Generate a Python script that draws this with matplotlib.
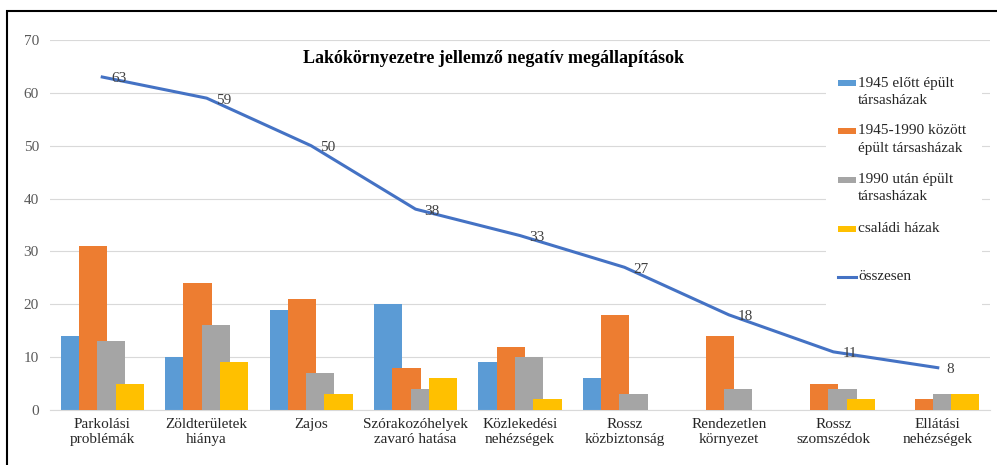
import matplotlib
matplotlib.use("Agg")
import matplotlib.pyplot as plt
import numpy as np
from matplotlib.patches import Rectangle
from matplotlib.lines import Line2D

plt.rcParams['font.family'] = ['Liberation Serif', 'DejaVu Serif']

# adatok
kategoriak = ["Parkolási\nproblémák", "Zöldterületek\nhiánya", "Zajos",
              "Szórakozóhelyek\nzavaró hatása", "Közlekedési\nnehézségek",
              "Rossz\nközbiztonság", "Rendezetlen\nkörnyezet",
              "Rossz\nszomszédok", "Ellátási\nnehézségek"]
elott_1945 = [14, 10, 19, 20, 9, 6, 0, 0, 0]
kozott_1945_1990 = [31, 24, 21, 8, 12, 18, 14, 5, 2]
utan_1990 = [13, 16, 7, 4, 10, 3, 4, 4, 3]
csaladi = [5, 9, 3, 6, 2, 0, 0, 2, 3]
osszesen = [63, 59, 50, 38, 33, 27, 18, 11, 8]

sorozatok = [
    ("1945 előtt épült\ntársasházak", elott_1945, "#5B9BD5"),
    ("1945-1990 között\népült társasházak", kozott_1945_1990, "#ED7D31"),
    ("1990 után épült\ntársasházak", utan_1990, "#A5A5A5"),
    ("családi házak", csaladi, "#FFC000"),
]
VONAL_SZIN = "#4472C4"

W, H = 997, 465
fig = plt.figure(figsize=(W / 100, H / 100), dpi=100)
ax = fig.add_axes([50 / W, 55 / H, 940 / W, 370 / H])

x = np.arange(len(kategoriak))
szel = 0.27
lepes = 0.175
for i, (nev, ert, szin) in enumerate(sorozatok):
    ax.bar(x + (i - 1.5) * lepes, ert, width=szel, color=szin, zorder=2 + i)

ax.plot(x, osszesen, color=VONAL_SZIN, lw=2.2, zorder=10)
for xi, v in zip(x, osszesen):
    ax.annotate(str(v), (xi, v), xytext=(9, -2), textcoords="offset pixels",
                ha="left", va="center", fontsize=11, color="#404040", zorder=11)

ax.set_xlim(-0.5, len(kategoriak) - 0.5)
ax.set_ylim(0, 70)
ax.set_yticks(range(0, 71, 10))
ax.set_xticks(x)
ax.set_xticklabels(kategoriak, fontsize=11, color="#262626", linespacing=1.15)
ax.tick_params(axis="y", labelsize=11, labelcolor="#595959", length=0, pad=8)
ax.tick_params(axis="x", length=0, pad=6)
ax.grid(axis="y", color="#D9D9D9", lw=0.8, zorder=0)
ax.set_axisbelow(True)
for s in ["top", "right", "left"]:
    ax.spines[s].set_visible(False)
ax.spines["bottom"].set_color("#D9D9D9")

ax.text(0.472, 0.951, "Lakókörnyezetre jellemző negatív megállapítások",
        transform=ax.transAxes, ha="center", va="center",
        fontsize=13, fontweight="bold", color="black", zorder=12)

# jelmagyarázat kézzel, Excel-szerűen (jel az első sorhoz igazítva)
def fx(px):
    return px / W

def fy(py):
    return 1 - py / H

fig.patches.append(Rectangle((fx(826), fy(312)), fx(982) - fx(826), fy(68) - fy(312),
                             transform=fig.transFigure, facecolor="white",
                             edgecolor="none", zorder=20))
sor_y = [83, 131, 180, 229]
for (nev, _, szin), y0 in zip(sorozatok, sor_y):
    fig.patches.append(Rectangle((fx(838), fy(y0 + 3)), fx(18), 6 / H,
                                 transform=fig.transFigure, facecolor=szin,
                                 edgecolor="none", zorder=21))
    for k, sor in enumerate(nev.split("\n")):
        fig.text(fx(858), fy(y0 + 17 * k), sor, ha="left", va="center",
                 fontsize=11, color="#262626", zorder=22)
fig.lines.append(Line2D([fx(838), fx(856)], [fy(277), fy(277)],
                        transform=fig.transFigure, color=VONAL_SZIN, lw=2.2, zorder=21))
fig.text(fx(858), fy(277), "összesen", ha="left", va="center",
         fontsize=11, color="#262626", zorder=22)

# keret
fig.patches.append(Rectangle((fx(7), -0.01), 1.2, fy(11) + 0.01,
                             transform=fig.transFigure, fill=False,
                             edgecolor="black", lw=1.5, zorder=30))

fig.savefig("out.png", dpi=100)
